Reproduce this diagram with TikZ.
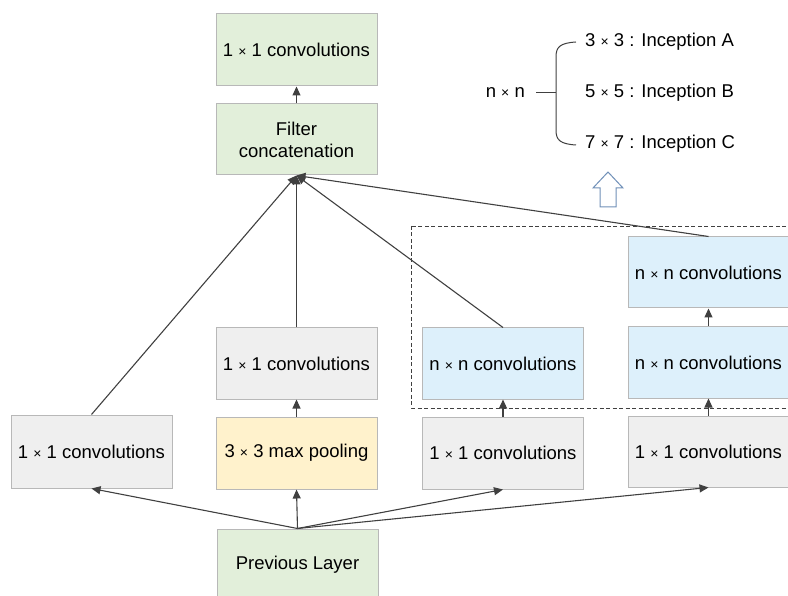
\documentclass[tikz,border=0pt]{standalone}
\usepackage{fontspec}
\setmainfont{Liberation Sans}
\usetikzlibrary{arrows.meta}
\definecolor{boxline}{HTML}{B8B8B8}
\definecolor{greenfill}{HTML}{E2EFDA}
\definecolor{grayfill}{HTML}{EFEFEF}
\definecolor{yellowfill}{HTML}{FFF2CC}
\definecolor{bluefill}{HTML}{DDF0FB}
\definecolor{wire}{HTML}{404040}
\definecolor{hollow}{HTML}{7090B8}
% small multiplication sign
\newcommand{\tms}{{\fontsize{14}{14}\selectfont ×}}
\tikzset{
  layer/.style={draw=boxline, line width=1pt, minimum width=161pt, minimum height=72pt,
    inner sep=0pt, align=center, font=\fontsize{18.5}{22}\selectfont},
  greenbox/.style={layer, fill=greenfill},
  graybox/.style={layer, fill=grayfill},
  yellowbox/.style={layer, fill=yellowfill},
  bluebox/.style={layer, fill=bluefill},
  flow/.style={draw=wire, line width=1.1pt, -{Triangle[length=9pt,width=8pt]}},
  label/.style={font=\fontsize{18.5}{22}\selectfont, inner sep=0pt},
}
\begin{document}
\begin{tikzpicture}[x=1pt,y=-1pt]
\useasboundingbox (0,0) rectangle (788,596);
\clip (0,0) rectangle (788,596);

% output side
\node[greenbox] (top) at (296.5,50) {1 \tms{} 1 convolutions};
\node[greenbox, minimum height=71pt] (concat) at (296.5,139.5) {Filter\\concatenation};

% branch 1
\node[graybox, minimum height=73pt] (c1) at (91.5,451.5) {1 \tms{} 1 convolutions};
% branch 2
\node[graybox, minimum height=71pt] (p1) at (296.5,363.5) {1 \tms{} 1 convolutions};
\node[yellowbox] (pool) at (296.5,453) {3 \tms{} 3 max pooling};
% branch 3
\node[bluebox, minimum height=71pt] (n3) at (503,363.5) {n \tms{} n convolutions};
\node[graybox] (c3) at (503,453) {1 \tms{} 1 convolutions};
% branch 4
\node[bluebox, minimum height=71pt] (n4a) at (708.5,272.5) {n \tms{} n convolutions};
\node[bluebox, minimum height=71pt] (n4b) at (708.5,362.5) {n \tms{} n convolutions};
\node[graybox, minimum height=71pt] (c4) at (708.5,451.5) {1 \tms{} 1 convolutions};

% input
\node[greenbox] (prev) at (297.5,565) {Previous Layer};

% dashed group around the n x n layers
\draw[wire, line width=0.8pt, dash pattern=on 4pt off 2.5pt] (411,226) rectangle (800,408);

% connectors
\draw[flow] (concat.north) -- (top.south);
\draw[flow] (c1.north) -- (concat.south);
\draw[flow] (p1.north) -- (concat.south);
\draw[flow] (n3.north) -- (concat.south);
\draw[flow] (n4a.north) -- (concat.south);
\draw[flow] (pool.north) -- (p1.south);
\draw[flow] (c3.north) -- (n3.south);
\draw[flow] (c4.north) -- (n4b.south);
\draw[flow] (n4b.north) -- (n4a.south);
\draw[flow] (prev.north) -- (c1.south);
\draw[flow] (prev.north) -- (pool.south);
\draw[flow] (prev.north) -- (c3.south);
\draw[flow] (prev.north) -- (c4.south);

% n x n legend with brace
\node[label, anchor=east] (nn) at (525,93) {n \tms{} n};
\coordinate (brA) at (576,42);
\coordinate (brC) at (576,145);
\coordinate (brM) at (556,93);
\draw[wire, line width=1pt] (nn.east) ++(11,0) coordinate (tick) -- (brM);
\draw[wire, line width=1pt] (brA) .. controls (560,43) and (556,47) .. (556,57)
  -- (556,130) .. controls (556,140) and (560,144) .. (brC);
\node[label, anchor=west] (ia) at (585,42) {3 \tms{} 3 : Inception A};
\node[label, anchor=west] (ib) at (585,93) {5 \tms{} 5 : Inception B};
\node[label, anchor=west] (ic) at (585,144) {7 \tms{} 7 : Inception C};

% hollow up arrow
\draw[hollow, line width=1pt, fill=white, line join=miter]
  (600,207) -- (600,188) -- (593,188) -- (608,172) -- (623,188) -- (616,188) -- (616,207) -- cycle;
\end{tikzpicture}
\end{document}
